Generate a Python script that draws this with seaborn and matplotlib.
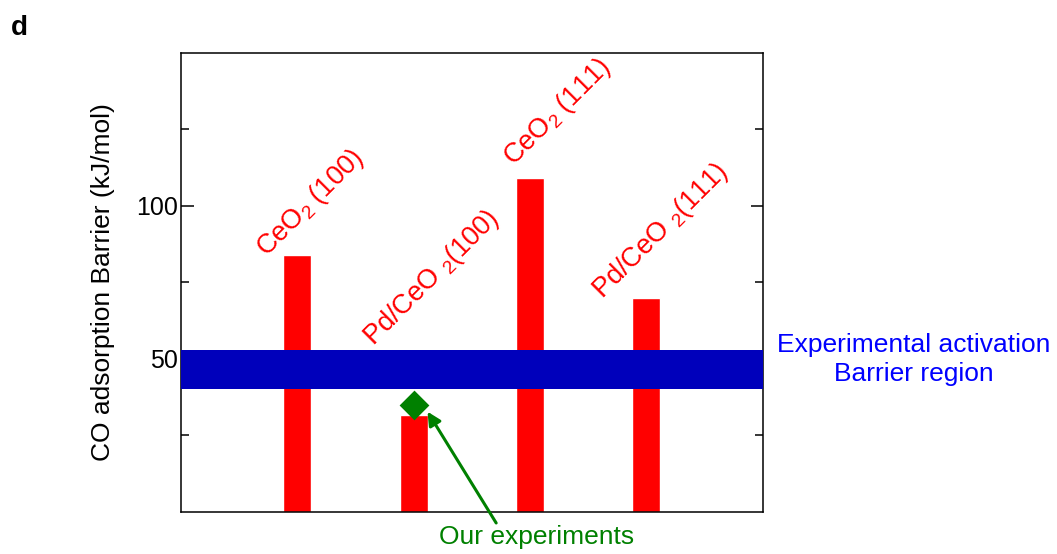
import numpy as np
import pandas as pd
import seaborn as sns
import matplotlib.pyplot as plt

# CO adsorption barriers on ceria surfaces vs. experimental activation barrier

surfaces = ["CeO2(100)", "Pd/CeO2(100)", "CeO2(111)", "Pd/CeO2(111)"]
labels = ["CeO$_\\mathregular{2}$ (100)", "Pd/CeO $_\\mathregular{2}$(100)",
          "CeO$_\\mathregular{2}$ (111)", "Pd/CeO $_\\mathregular{2}$(111)"]
barrier = [84, 31.5, 109, 70]
exp_band = [40, 53]
our_exp = 35  # measured on Pd/CeO2(100)

sns.set_style("white")
plt.rcParams['font.family'] = ['Liberation Sans', 'DejaVu Sans']
plt.rcParams['text.color'] = 'black'
plt.rcParams['axes.labelcolor'] = 'black'
plt.rcParams['ytick.color'] = 'black'

df = pd.DataFrame({'surface': surfaces, 'barrier': barrier})

fig = plt.figure(figsize=(10.57, 5.54), dpi=100)
ax = fig.add_axes([0.171, 0.0764, 0.5506, 0.828])

sns.barplot(data=df, x='surface', y='barrier', color='#ff0000', saturation=1,
            width=0.24, ax=ax, zorder=2)
ax.axhspan(exp_band[0], exp_band[1], color='#0000bb', zorder=3, lw=0)

idx = surfaces.index("Pd/CeO2(100)")
ax.scatter([idx], [our_exp], marker='D', s=230, color='#008000', zorder=4, lw=0)

ax.set_xlim(-1, len(surfaces))
ax.set_ylim(0, 150)
ax.set_xticks([])
ax.set_xlabel('')
ax.set_yticks([50, 100])
ax.set_yticks([25, 75, 125], minor=True)
ax.tick_params(axis='y', which='both', direction='in', left=True, right=True,
               labelsize=18, pad=2, colors='black')
ax.tick_params(axis='y', which='major', length=9, width=1.1)
ax.tick_params(axis='y', which='minor', length=5.5, width=1.1)
ax.set_ylabel('CO adsorption Barrier (kJ/mol)', fontsize=19, labelpad=15)
for s in ax.spines.values():
    s.set_visible(True)
    s.set_color('black')
    s.set_linewidth(1.1)

# rotated red labels over bars
lab_pos = [(0.11, 100.7), (1.16, 76.4), (2.24, 130.4), (3.125, 91.7)]
for lab, (lx, ly) in zip(labels, lab_pos):
    ax.text(lx, ly, lab, color='#ff0000', fontsize=19.5, rotation=45,
            ha='center', va='center', clip_on=False)

ax.annotate('', xy=(idx + 0.12, 32.7), xytext=(idx + 0.71, -3.7),
            arrowprops=dict(arrowstyle='-|>', color='#008000', lw=2.2,
                            mutation_scale=20, shrinkA=0, shrinkB=0),
            annotation_clip=False, zorder=5)
ax.text(idx + 1.06, -8.3, 'Our experiments', color='#008000', fontsize=19,
        ha='center', va='center', clip_on=False)

ax.text(5.3, 49.8, 'Experimental activation\nBarrier region', color='#0000ff',
        fontsize=19, ha='center', va='center', linespacing=1.3, clip_on=False)

fig.text(0.01, 0.95, 'd', fontsize=20, fontweight='bold', va='center',
         color='black')

fig.savefig('out.png', dpi=100)
